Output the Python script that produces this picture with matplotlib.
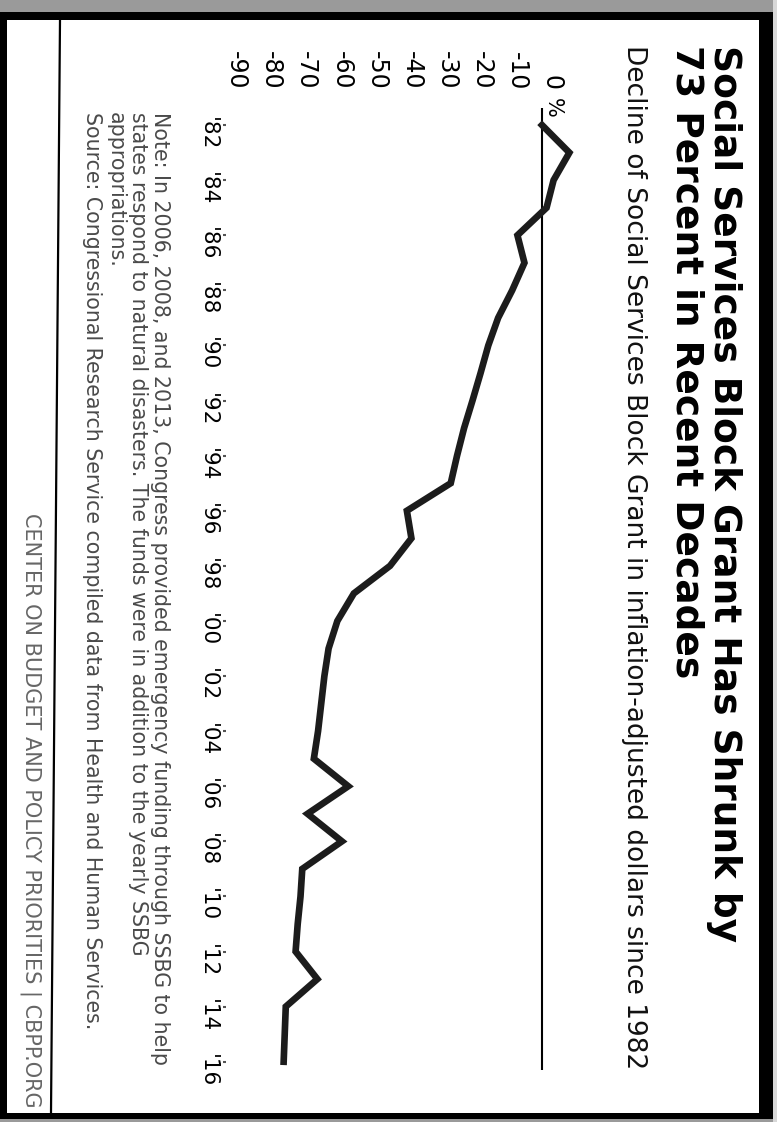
import matplotlib
matplotlib.use('Agg')
import matplotlib.pyplot as plt
from matplotlib.patches import Rectangle
from matplotlib.transforms import ScaledTranslation

# Datos: caída del SSBG (% vs 1982, dólares ajustados por inflación)
years = list(range(1982, 2017))
decline = [0, 7.8, 3.3, 1.3, -7.0, -5.0, -8.5, -12.5, -15.3, -17.5,
           -19.8, -22.2, -24.2, -26.0, -38.5, -37.2, -43.3, -53.6, -58.3, -60.8,
           -62.0, -62.9, -63.8, -65.0, -55.2, -66.8, -57.0, -68.3, -68.8, -69.6,
           -70.2, -64.0, -73.0, -73.3, -73.6]

pct_ticks = [0, -10, -20, -30, -40, -50, -60, -70, -80, -90]
pct_labels = ['0', '-10', '-20', '-30', '-40', '-50', '-60', '-70', '-80', '-90']
year_ticks = list(range(1982, 2017, 2))
year_labels = ["'82", "'84", "'86", "'88", "'90", "'92", "'94", "'96", "'98",
               "'00", "'02", "'04", "'06", "'08", "'10", "'12", "'14", "'16"]

title_1 = 'Social Services Block Grant Has Shrunk by'
title_2 = '73 Percent in Recent Decades'
subtitle = 'Decline of Social Services Block Grant in inflation-adjusted dollars since 1982'
notes = ['Note: In 2006, 2008, and 2013, Congress provided emergency funding through SSBG to help',
         'states respond to natural disasters. The funds were in addition to the yearly SSBG',
         'appropriations.']
source = 'Source: Congressional Research Service compiled data from Health and Human Services.'
footer = 'CENTER ON BUDGET AND POLICY PRIORITIES | CBPP.ORG'

W, H = 777, 1122
fig = plt.figure(figsize=(W / 100, H / 100), dpi=100)
fig.patch.set_facecolor('white')
plt.rcParams['font.family'] = ['DejaVu Sans']


def fx(px):
    return px / W


def fy(py):
    return 1 - py / H


# marco escaneado (página girada 90 grados)
bg = fig.add_axes([0, 0, 1, 1])
bg.set_xlim(0, W)
bg.set_ylim(H, 0)
bg.axis('off')
bg.add_patch(Rectangle((0, 0), W, 12, color='#9a9a9a', lw=0))
bg.add_patch(Rectangle((0, 1119), W, 3, color='#9a9a9a', lw=0))
bg.add_patch(Rectangle((773, 0), 4, H, color='#d8d8d8', lw=0))
bg.add_patch(Rectangle((0, 12), 773, 8, color='black', lw=0))
bg.add_patch(Rectangle((0, 1113), 773, 6, color='black', lw=0))
bg.add_patch(Rectangle((759, 12), 14, 1107, color='black', lw=0))
bg.add_patch(Rectangle((0, 12), 7, 1107, color='black', lw=0))
bg.plot([60, 51], [20, 1113], color='black', lw=1.6)

# eje principal: x = porcentaje, y = año (invertido)
zero_px = 542
px_per_pct = 3.51
left_px, right_px, top_px, bot_px = 226, 600, 108, 1070
ax = fig.add_axes([fx(left_px), fy(bot_px), (right_px - left_px) / W, (bot_px - top_px) / H])
ax.set_facecolor('none')
ax.set_xlim((left_px - zero_px) / px_per_pct, (right_px - zero_px) / px_per_pct)
ax.set_ylim(2016.3, 1981.38)

ax.axvline(0, color='black', lw=1.5, zorder=2)
ax.plot(decline, years, color='#1c1c1c', lw=4.8, solid_joinstyle='miter', zorder=3)

for s in ax.spines.values():
    s.set_visible(False)

ax.xaxis.tick_top()
ax.set_xticks(pct_ticks)
ax.set_xticklabels(pct_labels, rotation=270, rotation_mode='anchor',
                   ha='right', va='center', fontsize=17)
ax.tick_params(axis='x', length=0, pad=13)

ax.set_yticks(year_ticks)
ax.set_yticklabels(year_labels, rotation=270, fontsize=15.5)
ax.tick_params(axis='y', length=2, width=1.5, pad=4, color='#555555')

# etiquetas del porcentaje un poco desplazadas como en el original
shift = ScaledTranslation(10 / 100, 0, fig.dpi_scale_trans)
for tick in ax.xaxis.get_major_ticks():
    tick.label2.set_transform(tick.label2.get_transform() + shift)

ax.annotate('%', xy=(0, 1), xycoords=('data', 'axes fraction'),
            xytext=(7.5, 7), textcoords='offset points', rotation=270,
            rotation_mode='anchor', ha='left', va='center', fontsize=15)

# títulos
fig.text(fx(714), fy(45), title_1, rotation=270, rotation_mode='anchor',
         ha='left', va='baseline', fontsize=27, fontweight='bold')
fig.text(fx(677), fy(45), title_2, rotation=270, rotation_mode='anchor',
         ha='left', va='baseline', fontsize=27, fontweight='bold')
fig.text(fx(627), fy(45), subtitle, rotation=270, rotation_mode='anchor',
         ha='left', va='baseline', fontsize=19, color='#111111')

# notas y fuente
for i, line in enumerate(notes):
    fig.text(fx(154 - 22 * i), fy(112), line, rotation=270, rotation_mode='anchor',
             ha='left', va='baseline', fontsize=14.8, color='#4a4a4a')
fig.text(fx(86), fy(112), source, rotation=270, rotation_mode='anchor',
         ha='left', va='baseline', fontsize=14.8, color='#4a4a4a')

fig.text(fx(25), fy(1108), footer, rotation=270, rotation_mode='anchor',
         ha='right', va='baseline', fontsize=15, color='#666666')

fig.savefig('out.png', dpi=100)
